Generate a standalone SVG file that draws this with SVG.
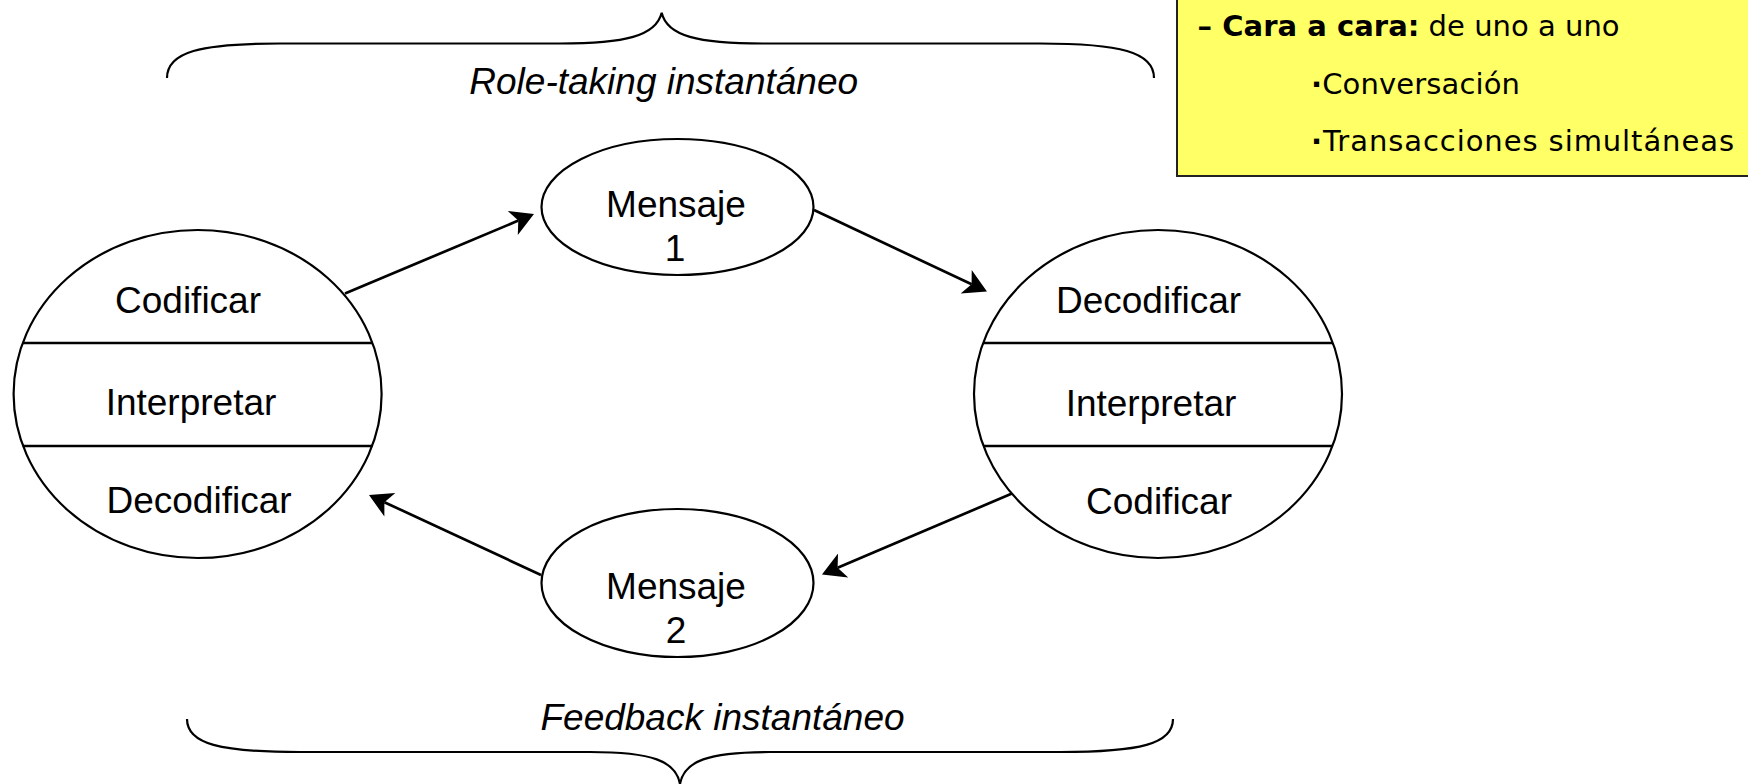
<svg xmlns="http://www.w3.org/2000/svg" width="1748" height="784" viewBox="0 0 1748 784">
<style>
.shape{fill:#ffffff;stroke:#000000;stroke-width:2.2}
.div{stroke:#000000;stroke-width:2.5}
.lbl{font-family:"Liberation Sans",Arial,sans-serif;font-size:37px;fill:#000000;text-anchor:middle}
.it{font-style:italic}
.brace{fill:none;stroke:#000000;stroke-width:2.2}
.conn{stroke:#000000;stroke-width:2.7;fill:none}
.box{fill:#FFFF66;stroke:#222222;stroke-width:2}
.bt{font-family:"DejaVu Sans","Noto Sans",sans-serif;font-size:29px;fill:#000000}
.bul{font-weight:bold}
</style>
<defs>
<marker id="arr" markerUnits="userSpaceOnUse" viewBox="0 0 28 26" markerWidth="28" markerHeight="26" refX="11" refY="13" orient="auto">
<path d="M5,0 L28,13 L5,26 L11,13 Z" fill="#000000"/>
</marker>
</defs>
<rect width="1748" height="784" fill="#ffffff"/>

<g id="brace-top">
<path class="brace" d="M167,78 C167,52 200,43.5 280,43.5 L560,43.5 C625,43.5 656,36 661.7,12.7 C667,36 698,43.5 763,43.5 L1040,43.5 C1120,43.5 1154,52 1154,78"/>
<text class="lbl it" x="663.7" y="94">Role-taking instantáneo</text>
</g>

<g id="brace-bottom">
<text class="lbl it" x="722.5" y="730">Feedback instantáneo</text>
<path class="brace" d="M187,719 C187,744 220,752 300,752 L590,752 C652,752 676,761 680,784 C684,761 708,752 770,752 L1060,752 C1140,752 1173,744 1173,719"/>
</g>

<g id="emisor">
<ellipse class="shape" cx="197.6" cy="394" rx="184" ry="164"/>
<line class="div" x1="22.7" y1="343" x2="372.5" y2="343"/>
<line class="div" x1="22.7" y1="446" x2="372.5" y2="446"/>
<text class="lbl" x="188" y="313">Codificar</text>
<text class="lbl" x="191" y="415">Interpretar</text>
<text class="lbl" x="199" y="513">Decodificar</text>
</g>

<g id="receptor">
<ellipse class="shape" cx="1158" cy="394" rx="184" ry="164"/>
<line class="div" x1="983" y1="343" x2="1333" y2="343"/>
<line class="div" x1="983" y1="446" x2="1333" y2="446"/>
<text class="lbl" x="1148.5" y="313">Decodificar</text>
<text class="lbl" x="1151" y="416">Interpretar</text>
<text class="lbl" x="1159" y="514">Codificar</text>
</g>

<g id="mensaje1">
<ellipse class="shape" cx="677.5" cy="207" rx="136" ry="68"/>
<text class="lbl" x="676" y="217">Mensaje</text>
<text class="lbl" x="675" y="261">1</text>
</g>

<g id="mensaje2">
<ellipse class="shape" cx="677.5" cy="583" rx="136" ry="74"/>
<text class="lbl" x="676" y="599">Mensaje</text>
<text class="lbl" x="676" y="643">2</text>
</g>

<g id="connectors">
<line class="conn" x1="345" y1="293.5" x2="518.3" y2="220.6" marker-end="url(#arr)"/>
<line class="conn" x1="814" y1="210" x2="971.6" y2="284.3" marker-end="url(#arr)"/>
<line class="conn" x1="1012" y1="493.5" x2="837.6" y2="567.8" marker-end="url(#arr)"/>
<line class="conn" x1="541" y1="575" x2="384.4" y2="502.2" marker-end="url(#arr)"/>
</g>

<g id="nota">
<rect class="box" x="1177" y="-2" width="580" height="178"/>
<text class="bt" x="1197.6" y="36" textLength="422" lengthAdjust="spacing"><tspan font-weight="bold">– Cara a cara:</tspan> de uno a uno</text>
<text class="bt" x="1311" y="94.3" textLength="209" lengthAdjust="spacing"><tspan class="bul">·</tspan>Conversación</text>
<text class="bt" x="1311" y="150.7" textLength="423" lengthAdjust="spacing"><tspan class="bul">·</tspan>Transacciones simultáneas</text>
</g>
</svg>
